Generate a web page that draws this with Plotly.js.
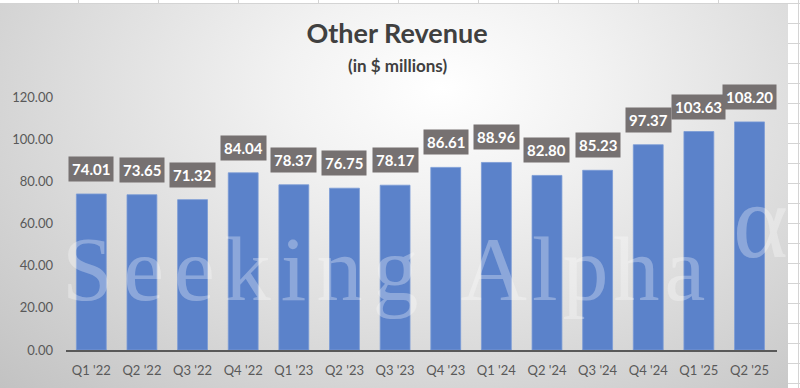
<!DOCTYPE html>
<html><head><meta charset="utf-8">
<script src="https://cdn.plot.ly/plotly-3.0.1.min.js"></script>
<style>
html,body{margin:0;padding:0;width:800px;height:388px;overflow:hidden;background:#fff;}
#grid{position:absolute;left:0;top:0;width:800px;height:388px;
 background-image:linear-gradient(to right,#d4d4d4 1px,transparent 1px),linear-gradient(to bottom,#d4d4d4 1px,transparent 1px);
 background-size:80px 20px,800px 20px;background-position:-2px 0,0 3px;}
#chart{position:absolute;left:0;top:4px;width:788px;height:384px;
 background:radial-gradient(ellipse farthest-corner at 56% 22%,#ffffff 0%,#f2f2f2 25%,#dcdcdc 60%,#c2c2c2 100%);}
</style></head>
<body><div id="grid"></div><div id="chart"></div>
<script>
const categories = ["Q1 '22","Q2 '22","Q3 '22","Q4 '22","Q1 '23","Q2 '23","Q3 '23","Q4 '23","Q1 '24","Q2 '24","Q3 '24","Q4 '24","Q1 '25","Q2 '25"];
const values = [74.01,73.65,71.32,84.04,78.37,76.75,78.17,86.61,88.96,82.80,85.23,97.37,103.63,108.20];
const yTicks = [0,20,40,60,80,100,120];
const yTickLabels = yTicks.map(v => v.toFixed(2));

const W = 788, H = 384, ML = 66, MR = 11, MT = 93, MB = 38;
const PW = W-ML-MR, PH = H-MT-MB;
const px = x => (x-ML)/PW;
const py = y => 1-((y-4)-MT)/PH;

const labelAnns = categories.map((c,i) => ({
  x: c, y: values[i], xref:'x', yref:'y', text: values[i].toFixed(2),
  showarrow:false, yanchor:'bottom', yshift:12,
  bgcolor:'#767171', borderpad:3,
  font:{family:'Lato, sans-serif', size:15, color:'#ffffff', weight:'bold'}
}));

const watermark = [
  {text:'Seeking', x:245, y:302, size:92, ls:'10px'},
  {text:'Alpha', x:585, y:302, size:92, ls:'5px'},
  {text:'α', x:760, y:259, size:105, ls:'0px'}
];
const watermarkAnns = watermark.map(w => ({
  text:w.text, xref:'paper', yref:'paper', showarrow:false,
  x:px(w.x), y:py(w.y), xanchor:'center', yanchor:'bottom', yshift:-w.size*0.22,
  font:{family:'Liberation Serif, serif', size:w.size, color:'rgba(255,255,255,0.3)'}
}));

const subtitle = {text:'(in $ millions)', xref:'paper', yref:'paper', x:px(397), xanchor:'center',
  y:py(65), yanchor:'middle', showarrow:false,
  font:{family:'Lato, sans-serif', size:17, color:'#404040', weight:'bold'}};

const data = [{
  type:'bar', x:categories, y:values,
  marker:{color:'#5B82CA', line:{color:'#7A9AD6', width:0.8}},
  hoverinfo:'x+y'
}];

const layout = {
  width:W, height:H,
  margin:{l:ML, r:MR, t:MT, b:MB},
  paper_bgcolor:'rgba(0,0,0,0)', plot_bgcolor:'rgba(0,0,0,0)',
  title:{text:'Other Revenue', x:397/W, xref:'container', xanchor:'center', y:1-30/H, yref:'container', yanchor:'middle',
    font:{family:'Lato, sans-serif', size:27, color:'#404040', weight:'bold'}},
  bargap:0.41,
  xaxis:{type:'category', showline:true, linecolor:'#595959', linewidth:1.5, ticks:'',
    tickfont:{family:'Lato, sans-serif', size:13, color:'#595959'}, ticklabelstandoff:8,
    showgrid:false, zeroline:false, fixedrange:true},
  yaxis:{range:[0,120], tickvals:yTicks, ticktext:yTickLabels, showgrid:false, zeroline:false,
    showline:false, ticks:'', ticklabelstandoff:12,
    tickfont:{family:'Lato, sans-serif', size:13, color:'#595959'}, fixedrange:true},
  annotations:[...watermarkAnns, subtitle, ...labelAnns],
  showlegend:false
};
Plotly.newPlot('chart', data, layout, {displayModeBar:false, staticPlot:true}).then(gd => {
  watermark.forEach((w,i) => {
    const t = gd.querySelector('.annotation[data-index="'+i+'"] text');
    if (t) t.style.letterSpacing = w.ls;
  });
});
</script></body></html>
